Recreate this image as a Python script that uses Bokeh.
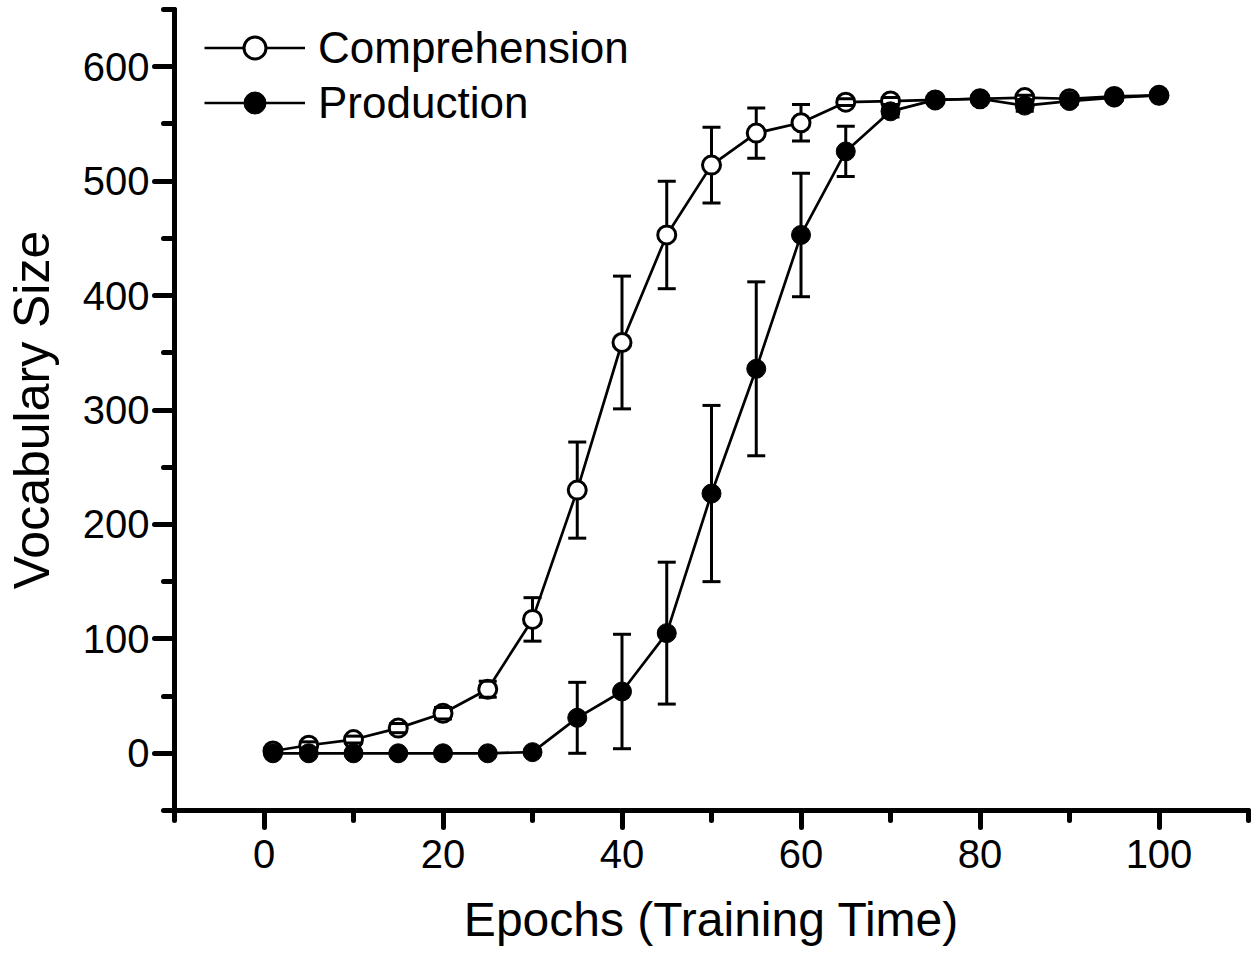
import numpy as np
from bokeh.plotting import figure
from bokeh.models import (ColumnDataSource, Whisker, TeeHead, SingleIntervalTicker,
                          Legend, LegendItem, Range1d)
from bokeh.embed import file_html
from bokeh.resources import INLINE

# ---- data ----
epochs = [1, 5, 10, 15, 20, 25, 30, 35, 40, 45, 50, 55, 60, 65, 70, 75, 80, 85, 90, 95, 100]
comprehension = [2, 7, 12, 22, 35, 56, 117, 230, 359, 453, 514, 542, 551, 569, 570, 571, 572, 573, 572, 574, 575]
comprehension_err = [1, 3, 3, 4, 5, 7, 19, 42, 58, 47, 33, 22, 16, 3, 3, 2, 2, 2, 2, 2, 2]
production = [0, 0, 0, 0, 0, 0, 1, 31, 54, 105, 227, 336, 453, 526, 561, 571, 572, 566, 570, 573, 575]
production_err = [0, 0, 0, 0, 0, 0, 0, 31, 50, 62, 77, 76, 54, 22, 5, 2, 2, 5, 3, 2, 2]

x_ticks_interval = 20
y_ticks_interval = 100
x_label = "Epochs (Training Time)"
y_label = "Vocabulary Size"
series_names = ["Comprehension", "Production"]

FONT = "Liberation Sans"

def make_src(x, y, e):
    x = np.asarray(x, float); y = np.asarray(y, float); e = np.asarray(e, float)
    return ColumnDataSource(dict(x=x, y=y, upper=y + e, lower=y - e))

src_c = make_src(epochs, comprehension, comprehension_err)
src_p = make_src(epochs, production, production_err)

p = figure(x_range=Range1d(-10, 110), y_range=Range1d(-50, 650),
           frame_width=1074, frame_height=801,
           min_border_left=166, min_border_right=4, min_border_top=9, min_border_bottom=136,
           output_backend="svg", toolbar_location=None)
p.outline_line_color = None
p.xgrid.visible = False
p.ygrid.visible = False
p.background_fill_color = "white"
p.border_fill_color = "white"

# axes
p.xaxis.ticker = SingleIntervalTicker(interval=x_ticks_interval, num_minor_ticks=2)
p.yaxis.ticker = SingleIntervalTicker(interval=y_ticks_interval, num_minor_ticks=2)
for ax in (p.xaxis, p.yaxis):
    ax.axis_line_width = 5
    ax.axis_line_color = "black"
    ax.axis_line_cap = "round"
    ax.major_tick_line_width = 5
    ax.minor_tick_line_width = 5
    ax.major_tick_line_cap = "round"
    ax.minor_tick_line_cap = "round"
    ax.major_tick_line_color = "black"
    ax.minor_tick_line_color = "black"
    ax.major_tick_in = 0
    ax.minor_tick_in = 0
    ax.major_label_text_font = FONT
    ax.major_label_text_font_size = "40px"
    ax.major_label_text_color = "black"
    ax.axis_label_text_font = FONT
    ax.axis_label_text_font_style = "normal"
    ax.axis_label_text_color = "black"

p.xaxis.major_tick_out = 17
p.xaxis.minor_tick_out = 10
p.yaxis.major_tick_out = 20
p.yaxis.minor_tick_out = 11
p.xaxis.major_label_standoff = 12
p.yaxis.major_label_standoff = 5

p.xaxis.axis_label = x_label
p.xaxis.axis_label_text_font_size = "48px"
p.xaxis.axis_label_standoff = 22

p.yaxis.axis_label = y_label
p.yaxis.axis_label_text_font_size = "50px"
p.yaxis.axis_label_standoff = 20

# error bar stems (below markers)
for src in (src_c, src_p):
    w = Whisker(source=src, base="x", upper="upper", lower="lower",
                line_color="black", line_width=3, upper_head=None, lower_head=None,
                level="underlay")
    p.add_layout(w)

# lines
lc = p.line("x", "y", source=src_c, line_color="black", line_width=2.7)
lp = p.line("x", "y", source=src_p, line_color="black", line_width=2.7)

# markers
mc = p.scatter("x", "y", source=src_c, marker="circle", size=18,
               fill_color="white", line_color="black", line_width=3)
mp = p.scatter("x", "y", source=src_p, marker="circle", size=19,
               fill_color="black", line_color="black", line_width=1)

# error bar caps (on top)
for src in (src_c, src_p):
    w = Whisker(source=src, base="x", upper="upper", lower="lower",
                line_alpha=0,
                upper_head=TeeHead(size=18, line_width=3, line_color="black"),
                lower_head=TeeHead(size=18, line_width=3, line_color="black"),
                level="annotation")
    p.add_layout(w)

legend = Legend(items=[LegendItem(label=series_names[0], renderers=[lc, mc]),
                       LegendItem(label=series_names[1], renderers=[lp, mp])],
                location=(30, 680), glyph_width=101, glyph_height=55, label_height=50,
                spacing=0, padding=0, margin=0, label_standoff=13,
                label_text_font=FONT, label_text_font_size="44px",
                label_text_color="black",
                border_line_alpha=0, background_fill_alpha=0)
p.add_layout(legend)

open("out.html", "w").write(file_html(p, INLINE))
